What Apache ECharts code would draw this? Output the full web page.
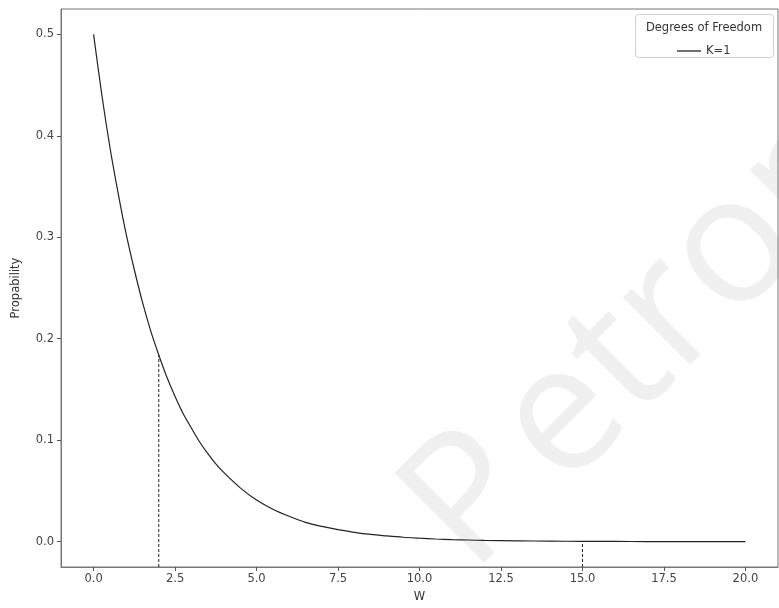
<!DOCTYPE html>
<html><head><meta charset="utf-8">
<script src="https://cdn.jsdelivr.net/npm/echarts@6/dist/echarts.min.js"></script>
<style>html,body{margin:0;padding:0;background:#fff}#c{width:779px;height:608px}</style>
</head><body><div id="c"></div>
<script>
// Data
var wValues = [0, 0.25, 0.5, 0.75, 1, 1.25, 1.5, 1.75, 2, 2.25, 2.5, 2.75, 3, 3.25, 3.5, 3.75, 4, 4.5, 5, 5.5, 6, 6.5, 7, 7.5, 8, 8.5, 9, 9.5, 10, 10.5, 11, 11.5, 12, 13, 14, 15, 16, 17, 18, 19, 20];
var probValues = [0.5, 0.441, 0.389, 0.344, 0.303, 0.268, 0.236, 0.208, 0.184, 0.162, 0.143, 0.126, 0.112, 0.0985, 0.087, 0.0767, 0.068, 0.053, 0.041, 0.032, 0.025, 0.019, 0.015, 0.0118, 0.0092, 0.0071, 0.0056, 0.0043, 0.0034, 0.0026, 0.002, 0.0016, 0.0012, 0.0008, 0.0005, 0.0003, 0.0002, 0.0001, 0.0001, 0.00005, 0.00003];
var vlineX = [2, 15];
var vlineTop = [0.184, 0.0003];
var xTicks = [0, 2.5, 5, 7.5, 10, 12.5, 15, 17.5, 20];
var yTicks = [0, 0.1, 0.2, 0.3, 0.4, 0.5];
var seriesName = 'K=1';
var legendTitle = 'Degrees of Freedom';
var watermarkParts = ['P', 'etronas'];
var xMin = -1, xMax = 21, yMin = -0.025, yMax = 0.525;

var chart = echarts.init(document.getElementById('c'), null, {renderer: 'canvas'});
var font = 'DejaVu Sans';
var series = [{
  name: seriesName, type: 'line', smooth: 0.3, symbol: 'none', showSymbol: false,
  data: wValues.map(function (w, i) { return [w, probValues[i]]; }),
  lineStyle: {color: '#222', width: 1.2}, itemStyle: {color: '#222'}, z: 3
}];
vlineX.forEach(function (x, i) {
  series.push({
    type: 'line', symbol: 'none', silent: true,
    data: [[x, yMin], [x, vlineTop[i]]],
    lineStyle: {color: '#222', width: 1, type: [3, 2]}, z: 2
  });
});
var wmStyle = {font: '178px "Open Sans"', fill: '#f0f0f0', textAlign: 'left', textVerticalAlign: 'bottom'};
chart.setOption({
  animation: false,
  grid: {left: 61, right: 1, top: 9, bottom: 38, show: true, borderColor: '#777', borderWidth: 1, backgroundColor: 'transparent'},
  xAxis: {
    type: 'value', min: xMin, max: xMax,
    name: 'W', nameLocation: 'middle', nameGap: 24,
    nameTextStyle: {fontFamily: font, fontSize: 11.5, color: '#333'},
    axisLine: {onZero: false, lineStyle: {color: '#777'}},
    axisTick: {show: true, inside: false, length: 4, customValues: xTicks, lineStyle: {color: '#555'}},
    axisLabel: {customValues: xTicks, fontFamily: font, fontSize: 11.5, color: '#444', margin: 6,
      formatter: function (v) { return v.toFixed(1); }},
    splitLine: {show: false}
  },
  yAxis: {
    type: 'value', min: yMin, max: yMax,
    name: 'Propability', nameLocation: 'middle', nameGap: 39, nameRotate: 90,
    nameTextStyle: {fontFamily: font, fontSize: 11.5, color: '#333'},
    axisLine: {show: true, onZero: false, lineStyle: {color: '#777'}},
    axisTick: {show: true, inside: false, length: 4, customValues: yTicks, lineStyle: {color: '#555'}},
    axisLabel: {customValues: yTicks, fontFamily: font, fontSize: 11.5, color: '#444', margin: 7,
      formatter: function (v) { return v.toFixed(1); }},
    splitLine: {show: false}
  },
  legend: {
    z: 20, data: [{name: seriesName, icon: 'rect'}], left: 672, top: 40, itemWidth: 24, itemHeight: 1.3, itemGap: 6,
    itemStyle: {color: '#222'},
    textStyle: {fontFamily: font, fontSize: 11.5, color: '#333'}
  },
  graphic: [
    {type: 'text', z: -10, silent: true, x: 499, y: 602, rotation: Math.PI / 4,
      style: Object.assign({text: watermarkParts[0]}, wmStyle)},
    {type: 'text', z: -10, silent: true, x: 591, y: 518, rotation: Math.PI / 4,
      style: Object.assign({text: watermarkParts[1]}, wmStyle)},
    {type: 'rect', z: 1, shape: {x: 635.5, y: 14.5, width: 138, height: 43, r: 3},
      style: {fill: 'rgba(255,255,255,0.85)', stroke: '#d0d0d0', lineWidth: 1}},
    {type: 'text', z: 2, x: 704, y: 22, style: {text: legendTitle, font: '11.5px "DejaVu Sans"', fill: '#333', textAlign: 'center'}}
  ],
  series: series
});
</script></body></html>
